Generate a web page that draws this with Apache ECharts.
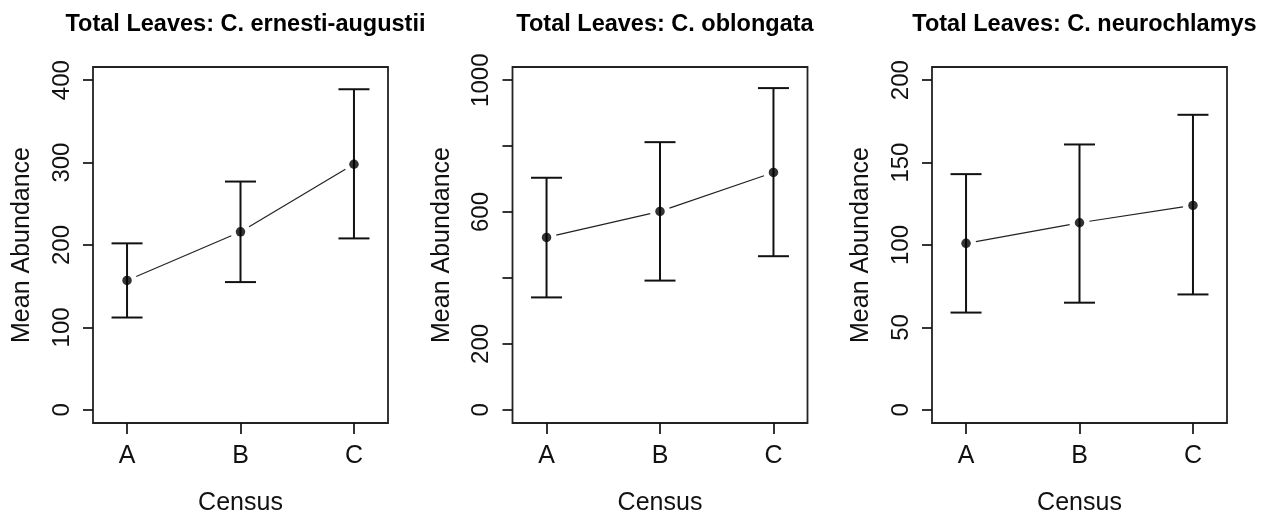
<!DOCTYPE html>
<html>
<head>
<meta charset="utf-8">
<script src="https://cdn.jsdelivr.net/npm/echarts@6/dist/echarts.min.js"></script>
<style>
  html, body { margin: 0; padding: 0; background: #fff; }
  #main { width: 1261px; height: 517px; }
</style>
</head>
<body>
<div id="main"></div>
<script>
const censusLabels = ['A', 'B', 'C']
const censusPos = [1, 2, 3]

const titles = [
    'Total Leaves: C. ernesti-augustii',
    'Total Leaves: C. oblongata',
    'Total Leaves: C. neurochlamys'
]

// means and error bar ends
const ernestiMean = [157, 216, 298]
const ernestiUpper = [202, 277, 389]
const ernestiLower = [112, 155, 208]

const oblongataMean = [523, 602, 720]
const oblongataUpper = [704, 812, 976]
const oblongataLower = [341, 392, 466]

const neuroMean = [101, 113.5, 124]
const neuroUpper = [143, 161, 179]
const neuroLower = [59, 65, 70]

// y ticks and shown labels
const ernestiTicks = [0, 100, 200, 300, 400]
const ernestiLabels = [0, 100, 200, 300, 400]
const oblongataTicks = [0, 200, 400, 600, 800, 1000]
const oblongataLabels = [0, 200, 600, 1000]
const neuroTicks = [0, 50, 100, 150, 200]
const neuroLabels = [0, 50, 100, 150, 200]

// R's 4% axis extension
const ernestiRange = [-16, 416]
const oblongataRange = [-40, 1040]
const neuroRange = [-8, 208]

const panels = [
    { mean: ernestiMean, upper: ernestiUpper, lower: ernestiLower, ticks: ernestiTicks, labels: ernestiLabels, range: ernestiRange },
    { mean: oblongataMean, upper: oblongataUpper, lower: oblongataLower, ticks: oblongataTicks, labels: oblongataLabels, range: oblongataRange },
    { mean: neuroMean, upper: neuroUpper, lower: neuroLower, ticks: neuroTicks, labels: neuroLabels, range: neuroRange }
]

const font = "'Liberation Sans', Arial, sans-serif"
const ink = '#111'
const lefts = [93, 512.5, 932]
const boxW = 295

const myChart = echarts.init(document.getElementById('main'))

function errorBars(params, api) {
    const x = api.value(0)
    const top = api.coord([x, api.value(2)])
    const bot = api.coord([x, api.value(1)])
    const w = 15.5
    const style = { stroke: ink, lineWidth: 2 }
    return {
        type: 'group',
        children: [
            { type: 'line', shape: { x1: top[0], y1: top[1], x2: bot[0], y2: bot[1] }, style },
            { type: 'line', shape: { x1: top[0] - w, y1: top[1], x2: top[0] + w, y2: top[1] }, style },
            { type: 'line', shape: { x1: bot[0] - w, y1: bot[1], x2: bot[0] + w, y2: bot[1] }, style }
        ]
    }
}

// type="b" style: segments with a gap round each point
function gappedLine(params, api) {
    const a = api.coord([api.value(0), api.value(1)])
    const b = api.coord([api.value(2), api.value(3)])
    const dx = b[0] - a[0], dy = b[1] - a[1]
    const len = Math.sqrt(dx * dx + dy * dy)
    const gap = 10
    const ux = dx / len, uy = dy / len
    return {
        type: 'line',
        shape: { x1: a[0] + ux * gap, y1: a[1] + uy * gap, x2: b[0] - ux * gap, y2: b[1] - uy * gap },
        style: { stroke: '#222', lineWidth: 1.2 }
    }
}

const grid = [], xAxis = [], yAxis = [], series = [], title = []

panels.forEach((p, i) => {
    grid.push({
        left: lefts[i], top: 67, width: boxW, height: 356,
        outerBoundsMode: 'none',
        containLabel: false,
        show: true, borderColor: '#222', borderWidth: 1.8, backgroundColor: 'transparent'
    })
    title.push({
        text: titles[i],
        left: lefts[i] + boxW / 2,
        top: 8,
        textAlign: 'center',
        textStyle: { fontFamily: font, fontWeight: 'bold', fontSize: 23.5, color: '#000' }
    })
    xAxis.push({
        gridIndex: i,
        type: 'value',
        min: 0.7, max: 3.3,
        name: 'Census',
        nameLocation: 'middle',
        nameGap: 68,
        nameTextStyle: { fontFamily: font, fontSize: 25, color: '#111' },
        axisLine: { show: false, onZero: false },
        splitLine: { show: false },
        axisTick: { show: true, length: 11, customValues: censusPos, lineStyle: { color: ink, width: 1.7 } },
        axisLabel: {
            customValues: censusPos,
            margin: 21,
            fontFamily: font, fontSize: 25, color: '#111',
            formatter: v => censusLabels[censusPos.indexOf(v)] || ''
        }
    })
    yAxis.push({
        gridIndex: i,
        type: 'value',
        min: p.range[0], max: p.range[1],
        name: 'Mean Abundance',
        nameLocation: 'middle',
        nameGap: 58,
        nameTextStyle: { fontFamily: font, fontSize: 25, color: '#111' },
        axisLine: { show: false, onZero: false },
        splitLine: { show: false },
        axisTick: { show: true, length: 10, customValues: p.ticks, lineStyle: { color: ink, width: 1.7 } },
        axisLabel: {
            customValues: p.labels,
            rotate: 90,
            margin: 19,
            fontFamily: font, fontSize: 24, color: '#111',
            formatter: v => String(v)
        }
    })

    const bars = censusPos.map((x, k) => [x, p.lower[k], p.upper[k]])
    const segs = []
    for (let k = 0; k < censusPos.length - 1; k++) {
        segs.push([censusPos[k], p.mean[k], censusPos[k + 1], p.mean[k + 1]])
    }
    series.push({
        type: 'custom', xAxisIndex: i, yAxisIndex: i,
        renderItem: errorBars,
        encode: { x: 0, y: [1, 2] },
        data: bars,
        silent: true
    })
    series.push({
        type: 'custom', xAxisIndex: i, yAxisIndex: i,
        renderItem: gappedLine,
        encode: { x: [0, 2], y: [1, 3] },
        data: segs,
        silent: true
    })
    series.push({
        type: 'scatter', xAxisIndex: i, yAxisIndex: i,
        symbol: 'circle', symbolSize: 9.5,
        itemStyle: { color: '#000' },
        data: censusPos.map((x, k) => [x, p.mean[k]]),
        silent: true
    })
})

myChart.setOption({
    animation: false,
    backgroundColor: '#fff',
    title,
    grid,
    xAxis,
    yAxis,
    series
})
</script>
</body>
</html>
